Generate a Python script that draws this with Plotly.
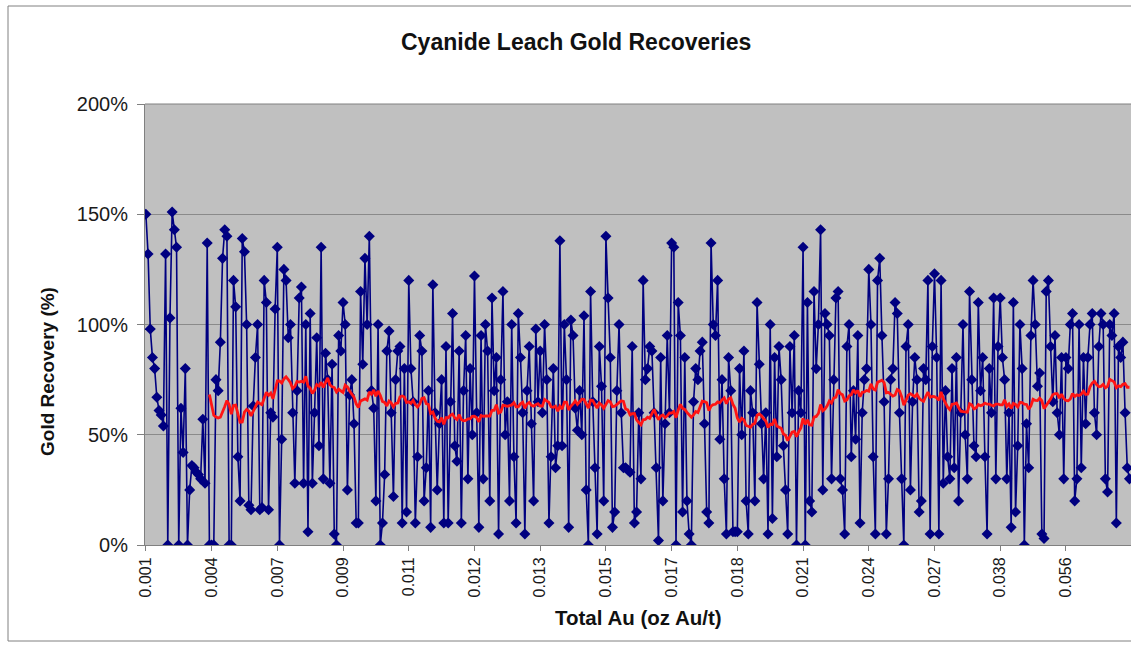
import numpy as np
import pandas as pd
import plotly.graph_objects as go

tick_labels = ["0.001", "0.004", "0.007", "0.009", "0.011", "0.012", "0.013", "0.015",
               "0.017", "0.018", "0.021", "0.024", "0.027", "0.038", "0.056"]
y_ticks = [0, 50, 100, 150, 200]
y_tick_text = ["0%", "50%", "100%", "150%", "200%"]

g0 = [150,132,98,85,80,67,61,59,54,132, 0,103,151,143,135,0,62,42,80,0, 25,36,35,33,32,30,57,28,137,0]
g1 = [0,0,75,70,92,130,143,140,0,0, 120,108,40,20,139,133,100,18,16,63, 85,100,16,17,120,110,16,60,58,107]
g2 = [135,0,48,125,120,94,100,60,28,70, 112,117,28,100,6,105,28,60,94,45, 135,30,87,75,28,82,5,0,95,88]
g3 = [110,100,25,68,75,55,10,10,115,82, 130,100,140,70,62,20,100,0,10,32, 88,97,60,22,75,88,90,10,80,15]
g4 = [120,80,65,10,40,95,88,20,35,70, 8,118,60,25,55,75,10,90,10,65, 105,45,38,88,10,70,95,30,80,50]
g5 = [122,60,8,95,30,100,88,20,112,70, 85,5,75,115,50,65,20,100,40,10, 105,85,60,5,70,90,55,20,98,65]
g6 = [88,60,100,75,10,40,80,35,45,138, 45,100,75,8,102,95,62,52,70,50, 104,25,0,115,65,35,5,90,72,20]
g7 = [140,112,85,8,15,70,100,60,35,35, 34,33,90,10,15,60,30,120,75,80, 90,88,60,35,2,85,20,55,95,60]
g8 = [137,135,0,110,95,15,85,20,5,0, 65,80,75,88,92,55,15,10,137,100, 95,120,48,75,30,5,85,70,6,6]
g9 = [6,80,50,88,20,5,70,60,20,110, 82,55,30,60,5,100,12,85,40,90, 75,45,25,5,90,60,95,0,70,60]
g10 = [135,0,110,20,15,115,80,100,143,25, 105,100,95,30,75,112,115,30,25,5, 90,100,40,70,48,95,10,60,75,80]
g11 = [125,100,40,5,120,130,95,65,5,30, 75,80,110,105,60,30,0,90,100,25, 65,85,75,15,20,80,75,120,5,90]
g12 = [123,85,5,120,28,70,40,30,80,35, 85,20,60,100,50,30,115,75,45,40, 110,70,85,40,5,80,60,112,30,90]
g13 = [112,85,75,30,60,8,110,15,45,100, 80,0,55,35,95,120,100,72,78,5, 3,115,120,90,65,95,60,50,85,30]
g14 = [85,80,100,105,20,30,100,35,85,55, 85,100,105,60,50,90,105,100,30,24, 100,95,105,10,90,85,92,60,35,30]

recovery = g0 + g1 + g2 + g3 + g4 + g5 + g6 + g7 + g8 + g9 + g10 + g11 + g12 + g13 + g14
ma_period = 30
labels_every = 30

idx = np.arange(len(recovery))
moving_avg = pd.Series(recovery, dtype=float).rolling(ma_period).mean()

fig = go.Figure()
fig.add_trace(go.Scatter(
    x=idx, y=recovery, mode="lines+markers",
    line=dict(color="#000080", width=1.6),
    marker=dict(symbol="diamond", size=8.5, color="#000080"),
    showlegend=False,
))
fig.add_trace(go.Scatter(
    x=idx, y=moving_avg, mode="lines",
    line=dict(color="#ff1414", width=2.8),
    showlegend=False,
))

W, H = 1131, 646
L, R, T, B = 145, 0, 104, 101
pw = W - L - R
ph = H - T - B


def px(x):
    return (x - L) / pw


def py(y):
    return (H - B - y) / ph


fig.update_layout(
    width=W, height=H,
    margin=dict(l=L, r=R, t=T, b=B),
    paper_bgcolor="white",
    plot_bgcolor="#c0c0c0",
    font=dict(family="Arial, Liberation Sans, sans-serif", color="#1a1a1a"),
    xaxis=dict(
        range=[-0.4, len(recovery) - 0.3],
        tickmode="array",
        tickvals=idx[::labels_every],
        ticktext=tick_labels,
        tickangle=-90,
        tickfont=dict(size=16, color="#1a1a1a"),
        ticks="outside", ticklen=5, tickcolor="#808080",
        showgrid=False, zeroline=False,
        showline=True, linecolor="#808080", linewidth=1,
    ),
    yaxis=dict(
        range=[0, 200],
        tickmode="array",
        tickvals=y_ticks,
        ticktext=y_tick_text,
        tickfont=dict(size=20, color="#1a1a1a"),
        ticks="outside", ticklen=7, tickcolor="#808080",
        ticklabelstandoff=5,
        showgrid=True, gridcolor="#8a8a8a", gridwidth=1,
        zeroline=False,
        showline=True, linecolor="#808080", linewidth=1,
    ),
    annotations=[
        dict(text="<b>Cyanide Leach Gold Recoveries</b>", xref="paper", yref="paper",
             x=px(576), y=py(42), xanchor="center", yanchor="middle", showarrow=False,
             font=dict(size=23, color="#111111")),
        dict(text="<b>Total Au (oz Au/t)</b>", xref="paper", yref="paper",
             x=px(638), y=py(617), xanchor="center", yanchor="middle", showarrow=False,
             font=dict(size=20.5, color="#111111")),
        dict(text="<b>Gold Recovery (%)</b>", xref="paper", yref="paper",
             x=px(48), y=py(372), xanchor="center", yanchor="middle", showarrow=False,
             textangle=-90, font=dict(size=19, color="#111111")),
    ],
)

# outer chart frame
fig.add_shape(type="rect", xref="paper", yref="paper",
              x0=px(8), x1=px(W + 10), y0=py(641), y1=py(6),
              line=dict(color="#808080", width=1), fillcolor="rgba(0,0,0,0)", layer="below")
fig.add_shape(type="line", xref="paper", yref="paper", x0=0, x1=1, y0=1, y1=1,
              line=dict(color="#808080", width=1))

fig.write_html("out.html", config={"displayModeBar": False},
               post_script="document.body.style.margin='0px';")
